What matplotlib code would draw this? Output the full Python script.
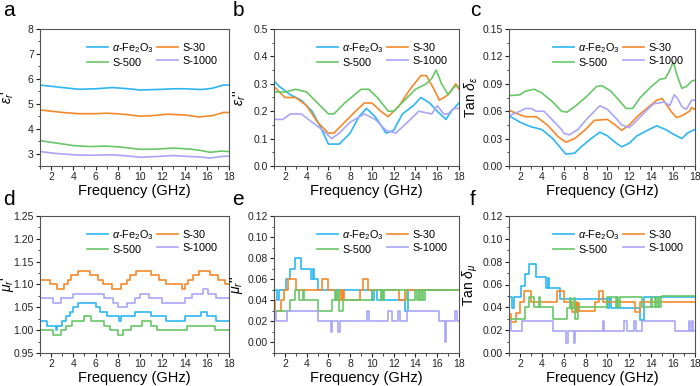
import matplotlib
matplotlib.use("Agg")
import matplotlib.pyplot as plt
from matplotlib.ticker import MultipleLocator

plt.rcParams['font.family'] = ['Liberation Sans', 'DejaVu Sans']
plt.rcParams['mathtext.fontset'] = 'custom'
plt.rcParams['mathtext.rm'] = 'Liberation Sans'
plt.rcParams['mathtext.it'] = 'Liberation Sans:italic'

labels = [r'$\it{\alpha}$-Fe$_2$O$_3$', 'S-30', 'S-500', 'S-1000']
colors = ['#2db6f2', '#f5892a', '#68c768', '#a9a5f7']

# ---- panel a: eps' ----
a_blue_x = [1, 3, 4.5, 6, 7.5, 9, 10, 12, 13, 14, 15.5, 16.5, 17.5, 18]
a_blue_y = [5.75, 5.65, 5.58, 5.6, 5.65, 5.6, 5.55, 5.58, 5.6, 5.6, 5.57, 5.62, 5.75, 5.75]
a_orange_x = [1, 3, 4.5, 6, 7, 8.5, 10, 11, 12.5, 14, 15.3, 16.5, 17.5, 18]
a_orange_y = [4.75, 4.65, 4.6, 4.6, 4.62, 4.58, 4.5, 4.52, 4.58, 4.55, 4.47, 4.52, 4.65, 4.65]
a_green_x = [1, 2.5, 4, 5.5, 7, 8.5, 10, 11.5, 13, 14.5, 15.5, 16.3, 17.3, 18]
a_green_y = [3.52, 3.42, 3.32, 3.28, 3.3, 3.25, 3.17, 3.18, 3.22, 3.18, 3.12, 3.05, 3.1, 3.08]
a_purple_x = [1, 2.5, 4, 5.5, 7.5, 9, 10, 11.5, 13, 14.5, 15.5, 16.3, 17.3, 18]
a_purple_y = [3.08, 3.0, 2.95, 2.93, 2.95, 2.9, 2.85, 2.88, 2.92, 2.88, 2.86, 2.82, 2.88, 2.9]

# ---- panel b: eps'' ----
b_blue_x = [1, 1.5, 2.5, 3.5, 4.5, 5.3, 6, 7, 8, 8.8, 9.5, 10.3, 11.3, 12, 12.8, 13.8, 14.5, 15.3, 16, 16.8, 17.3, 18]
b_blue_y = [0.31, 0.29, 0.26, 0.24, 0.2, 0.14, 0.08, 0.08, 0.12, 0.18, 0.21, 0.18, 0.12, 0.13, 0.19, 0.22, 0.25, 0.23, 0.2, 0.17, 0.2, 0.23]
b_orange_x = [1, 2, 3, 4, 5, 6, 6.5, 7.5, 8.5, 9.3, 10, 10.8, 11.5, 12.5, 13.5, 14.5, 15, 15.7, 16.2, 17, 17.7, 18]
b_orange_y = [0.29, 0.25, 0.25, 0.22, 0.16, 0.12, 0.12, 0.16, 0.2, 0.23, 0.23, 0.2, 0.18, 0.22, 0.28, 0.33, 0.33, 0.28, 0.24, 0.26, 0.3, 0.28]
b_green_x = [1, 2, 3, 4, 5, 6, 6.5, 7.5, 9, 9.7, 10.5, 11.5, 12, 13, 14, 15, 15.5, 15.9, 16.4, 17, 17.6, 18]
b_green_y = [0.27, 0.27, 0.28, 0.27, 0.23, 0.19, 0.19, 0.23, 0.28, 0.28, 0.25, 0.2, 0.2, 0.24, 0.28, 0.3, 0.32, 0.35, 0.3, 0.26, 0.29, 0.29]
b_purple_x = [1, 1.8, 2.5, 3.5, 4.5, 5.5, 6.3, 7, 8, 9.3, 10.3, 11.3, 12.2, 13, 13.8, 14.3, 15.5, 16, 16.6, 17, 17.5, 18]
b_purple_y = [0.17, 0.17, 0.19, 0.19, 0.16, 0.13, 0.1, 0.12, 0.16, 0.19, 0.17, 0.13, 0.12, 0.15, 0.18, 0.2, 0.19, 0.22, 0.19, 0.19, 0.21, 0.21]

# ---- panel c: tan delta_eps ----
c_blue_x = [1, 2, 3, 4, 5, 5.7, 6.2, 7, 7.5, 8.5, 9.3, 10, 10.8, 11.3, 12, 12.7, 13.8, 14.5, 15.3, 16, 16.8, 17.3, 18]
c_blue_y = [0.055, 0.048, 0.043, 0.04, 0.03, 0.02, 0.013, 0.014, 0.02, 0.03, 0.037, 0.033, 0.025, 0.021, 0.025, 0.033, 0.04, 0.044, 0.04, 0.035, 0.03, 0.036, 0.04]
c_orange_x = [1, 1.8, 2.5, 3.5, 4.5, 5.5, 6.2, 7, 8, 8.8, 10, 10.7, 11.3, 12, 12.8, 13.8, 14.5, 15, 15.8, 16.3, 16.8, 17.5, 17.7, 18]
c_orange_y = [0.061, 0.057, 0.054, 0.054, 0.045, 0.032, 0.026, 0.03, 0.04, 0.05, 0.051, 0.045, 0.039, 0.045, 0.055, 0.065, 0.072, 0.074, 0.06, 0.053, 0.055, 0.06, 0.064, 0.062]
c_green_x = [1, 2, 2.5, 3.3, 4, 5, 5.8, 6.3, 7, 8, 9, 9.5, 10.3, 11.2, 11.7, 12.3, 13, 14, 14.8, 15.3, 15.7, 16, 16.4, 16.8, 17.2, 17.7, 18]
c_green_y = [0.077, 0.078, 0.082, 0.084, 0.08, 0.07, 0.06, 0.059, 0.065, 0.075, 0.087, 0.088, 0.082, 0.07, 0.063, 0.063, 0.075, 0.087, 0.095, 0.096, 0.105, 0.114, 0.098, 0.085, 0.087, 0.093, 0.094]
c_purple_x = [1, 2, 2.5, 3, 3.5, 4.2, 5, 5.8, 6, 6.5, 7.3, 8, 8.8, 9.3, 10, 10.8, 11.3, 12, 12.7, 13.5, 14.2, 15.2, 15.7, 16.1, 16.4, 16.8, 17.2, 17.7, 18]
c_purple_y = [0.055, 0.06, 0.063, 0.063, 0.06, 0.06, 0.05, 0.04, 0.036, 0.034, 0.04, 0.05, 0.06, 0.066, 0.062, 0.052, 0.045, 0.042, 0.05, 0.06, 0.068, 0.07, 0.066, 0.078, 0.074, 0.065, 0.062, 0.072, 0.072]

# ---- panel d: mu' (step data: start frequency, level) ----
d_blue_f = [1, 1.6, 2.4, 2.55, 3.0, 3.3, 3.7, 4.0, 4.4, 6.0, 6.4, 7.0, 8.1, 8.3, 9.5, 11.0, 12.3, 14.0, 15.5, 16.0, 16.8]
d_blue_v = [1.02, 1.01, 1.00, 1.01, 1.02, 1.03, 1.04, 1.05, 1.06, 1.05, 1.04, 1.03, 1.02, 1.03, 1.04, 1.03, 1.02, 1.03, 1.04, 1.03, 1.02]
d_orange_f = [1, 1.9, 2.5, 3.2, 3.5, 3.8, 4.4, 5.5, 6.2, 6.7, 7.5, 8.3, 8.8, 9.1, 9.6, 11, 11.7, 12.3, 13.8, 14, 14.3, 14.8, 15.3, 16.3, 17, 17.6]
d_orange_v = [1.11, 1.10, 1.09, 1.10, 1.11, 1.12, 1.13, 1.12, 1.11, 1.10, 1.09, 1.10, 1.11, 1.12, 1.13, 1.12, 1.11, 1.10, 1.09, 1.10, 1.11, 1.12, 1.13, 1.12, 1.11, 1.10]
d_green_f = [1, 2.2, 2.9, 3.3, 3.9, 5.0, 5.6, 6.8, 7.3, 8.0, 8.5, 9.2, 10.2, 11.0, 11.5, 14.2, 16.7]
d_green_v = [1.00, 0.99, 1.00, 1.01, 1.02, 1.03, 1.02, 1.01, 1.00, 0.99, 1.00, 1.01, 1.02, 1.01, 1.00, 1.01, 1.00]
d_purple_f = [1, 2.2, 2.9, 4.0, 6.8, 7.6, 8.0, 8.8, 9.5, 10.0, 10.8, 12.0, 14.0, 14.7, 15.7, 16.1, 16.8]
d_purple_v = [1.07, 1.06, 1.07, 1.08, 1.07, 1.06, 1.05, 1.06, 1.07, 1.08, 1.07, 1.06, 1.07, 1.08, 1.09, 1.08, 1.07]

# ---- panel e: mu'' ----
e_blue_f = [1, 1.3, 1.45, 2.1, 2.5, 2.9, 3.5, 4.4, 4.6, 4.7, 5.0, 10.0, 10.15, 10.5, 13.0, 13.3]
e_blue_v = [0.05, 0.04, 0.05, 0.06, 0.07, 0.08, 0.07, 0.06, 0.07, 0.06, 0.05, 0.04, 0.05, 0.04, 0.03, 0.05]
e_orange_f = [1, 1.1, 1.6, 1.9, 2.3, 3.0, 5.4, 6.0, 6.7, 7.15, 7.25, 7.3, 7.4, 8.9, 9.2, 9.6, 12.5, 13.0]
e_orange_v = [0.04, 0.03, 0.04, 0.05, 0.06, 0.05, 0.06, 0.05, 0.04, 0.05, 0.04, 0.05, 0.04, 0.05, 0.06, 0.05, 0.04, 0.05]
e_green_f = [1, 2.5, 2.9, 3.3, 3.7, 3.8, 5.0, 6.3, 6.6, 6.7, 6.9, 7.0, 7.3, 10.0, 10.8, 10.9, 11.0, 11.1, 13.2, 14.0, 14.1, 14.3, 14.4, 14.6, 14.7, 14.9, 15.0]
e_green_v = [0.03, 0.04, 0.05, 0.04, 0.05, 0.04, 0.03, 0.04, 0.05, 0.04, 0.05, 0.03, 0.04, 0.05, 0.04, 0.05, 0.04, 0.05, 0.04, 0.05, 0.04, 0.05, 0.04, 0.05, 0.04, 0.05, 0.05]
e_purple_f = [1, 1.2, 2.2, 5.0, 6.2, 6.35, 6.9, 7.05, 9.55, 9.7, 11.5, 11.8, 12.4, 12.6, 13.2, 16.2, 16.7, 16.85, 17.6, 17.8]
e_purple_v = [0.03, 0.02, 0.03, 0.02, 0.01, 0.02, 0.01, 0.02, 0.03, 0.02, 0.03, 0.02, 0.03, 0.02, 0.03, 0.02, 0.00, 0.02, 0.03, 0.02]

# ---- panel f: tan delta_mu ----
f_blue_f = [1, 1.3, 1.45, 2.1, 2.5, 2.8, 3.5, 4.4, 4.55, 4.65, 5.7, 10.0, 10.15, 10.3, 13.0, 13.35]
f_blue_v = [0.049, 0.039, 0.049, 0.059, 0.069, 0.078, 0.067, 0.057, 0.066, 0.057, 0.047, 0.039, 0.048, 0.039, 0.029, 0.049]
f_orange_f = [1, 1.15, 1.6, 2.0, 2.4, 3.0, 5.4, 6.0, 6.8, 7.15, 7.25, 7.3, 7.4, 8.9, 9.2, 9.6, 12.5, 13.0]
f_orange_v = [0.034, 0.027, 0.035, 0.045, 0.054, 0.045, 0.054, 0.045, 0.036, 0.045, 0.036, 0.044, 0.037, 0.045, 0.054, 0.045, 0.036, 0.045]
f_green_f = [1, 2.5, 2.8, 3.3, 3.7, 3.8, 5.0, 6.3, 6.6, 6.7, 6.9, 7.0, 7.3, 10.0, 10.8, 10.9, 11.0, 11.1, 13.2, 14.0, 14.1, 14.3, 14.4, 14.6, 14.7, 14.9, 15.0]
f_green_v = [0.030, 0.040, 0.049, 0.040, 0.049, 0.040, 0.030, 0.039, 0.048, 0.039, 0.048, 0.030, 0.040, 0.049, 0.040, 0.049, 0.040, 0.049, 0.040, 0.049, 0.040, 0.049, 0.040, 0.049, 0.040, 0.049, 0.050]
f_purple_f = [1, 1.2, 2.2, 5.0, 6.2, 6.35, 6.9, 7.05, 9.55, 9.7, 11.5, 11.8, 12.4, 12.6, 13.2, 16.2, 17.45, 17.55, 17.75, 17.85]
f_purple_v = [0.028, 0.019, 0.028, 0.019, 0.009, 0.019, 0.009, 0.019, 0.028, 0.019, 0.028, 0.019, 0.028, 0.019, 0.028, 0.019, 0.028, 0.019, 0.028, 0.019]

fig = plt.figure(figsize=(7.0, 3.86), dpi=100)

W, H = 700, 386
def rect(l, r, t, b):
    return [l / W, 1 - b / H, (r - l) / W, (b - t) / H]

boxes = [rect(40, 229, 29, 166), rect(274, 459, 29, 166), rect(509, 695, 29, 166),
         rect(40, 229, 216, 353), rect(274, 459, 216, 353), rect(509, 695, 216, 353)]
# right edge (px) of each rotated y label
ylabel_px = [16, 248, 480, 16, 245, 480]

axes = [fig.add_axes(b) for b in boxes]

def style(ax, ylim, major, minor, ylabel, fmt, lab_x):
    ax.set_xlim(1, 18)
    ax.set_ylim(*ylim)
    ax.xaxis.set_major_locator(MultipleLocator(2))
    ax.xaxis.set_minor_locator(MultipleLocator(1))
    ax.yaxis.set_major_locator(MultipleLocator(major))
    ax.yaxis.set_minor_locator(MultipleLocator(minor))
    ax.yaxis.set_major_formatter(plt.FormatStrFormatter(fmt))
    ax.tick_params(which='major', direction='out', length=3, width=0.8, labelsize=7.5, pad=1.5, colors='#222222')
    ax.tick_params(which='minor', direction='out', length=1.8, width=0.6, colors='#222222')
    for s in ax.spines.values():
        s.set_linewidth(0.8)
        s.set_color('#555555')
    ax.set_xlabel('Frequency (GHz)', fontsize=10.5, labelpad=1)
    ax.set_ylabel(ylabel, fontsize=10)
    pos = ax.get_position()
    ax.yaxis.set_label_coords((lab_x / W - pos.x0) / pos.width, 0.5)

def smooth(ax, series):
    for (x, y), c, lab in zip(series, colors, labels):
        ax.plot(x, y, color=c, lw=1.2, label=lab)

def steps(ax, series):
    for (f, v), c, lab in zip(series, colors, labels):
        ax.plot(list(f) + [18], list(v) + [v[-1]], color=c, lw=1.2, label=lab, drawstyle='steps-post')

smooth(axes[0], [(a_blue_x, a_blue_y), (a_orange_x, a_orange_y), (a_green_x, a_green_y), (a_purple_x, a_purple_y)])
smooth(axes[1], [(b_blue_x, b_blue_y), (b_orange_x, b_orange_y), (b_green_x, b_green_y), (b_purple_x, b_purple_y)])
smooth(axes[2], [(c_blue_x, c_blue_y), (c_orange_x, c_orange_y), (c_green_x, c_green_y), (c_purple_x, c_purple_y)])
steps(axes[3], [(d_blue_f, d_blue_v), (d_orange_f, d_orange_v), (d_green_f, d_green_v), (d_purple_f, d_purple_v)])
steps(axes[4], [(e_blue_f, e_blue_v), (e_orange_f, e_orange_v), (e_green_f, e_green_v), (e_purple_f, e_purple_v)])
steps(axes[5], [(f_blue_f, f_blue_v), (f_orange_f, f_orange_v), (f_green_f, f_green_v), (f_purple_f, f_purple_v)])

specs = [
    ((2.5, 8), 1, 0.5, r"$\varepsilon_r$'", '%d'),
    ((0, 0.5), 0.1, 0.05, r"$\varepsilon_r$''", '%.1f'),
    ((0, 0.15), 0.03, 0.015, r"Tan $\delta_\varepsilon$", '%.2f'),
    ((0.95, 1.25), 0.05, 0.025, "$\\mathit{\u03bc}_r$'", '%.2f'),
    ((-0.01, 0.12), 0.02, 0.01, "$\\mathit{\u03bc}_r$''", '%.2f'),
    ((0, 0.12), 0.02, 0.01, r"Tan $\delta_\mu$", '%.2f'),
]

for ax, sp, lx in zip(axes, specs, ylabel_px):
    style(ax, *sp, lx)
    h, l = ax.get_legend_handles_labels()
    ax.legend([h[0], h[2], h[1], h[3]], [l[0], l[2], l[1], l[3]],
              loc='upper right', ncol=2, frameon=False, fontsize=7.8,
              handlelength=1.9, handletextpad=0.4, columnspacing=0.3,
              labelspacing=0.3, borderaxespad=0.7)

for lab, (x, y) in zip('abcdef', [(3, 10), (233, 10), (470, 10), (3, 199), (232, 199), (470, 199)]):
    fig.text(x / W, 1 - y / H, lab, fontsize=15, va='center', ha='left')

fig.savefig('out.png', dpi=100)
